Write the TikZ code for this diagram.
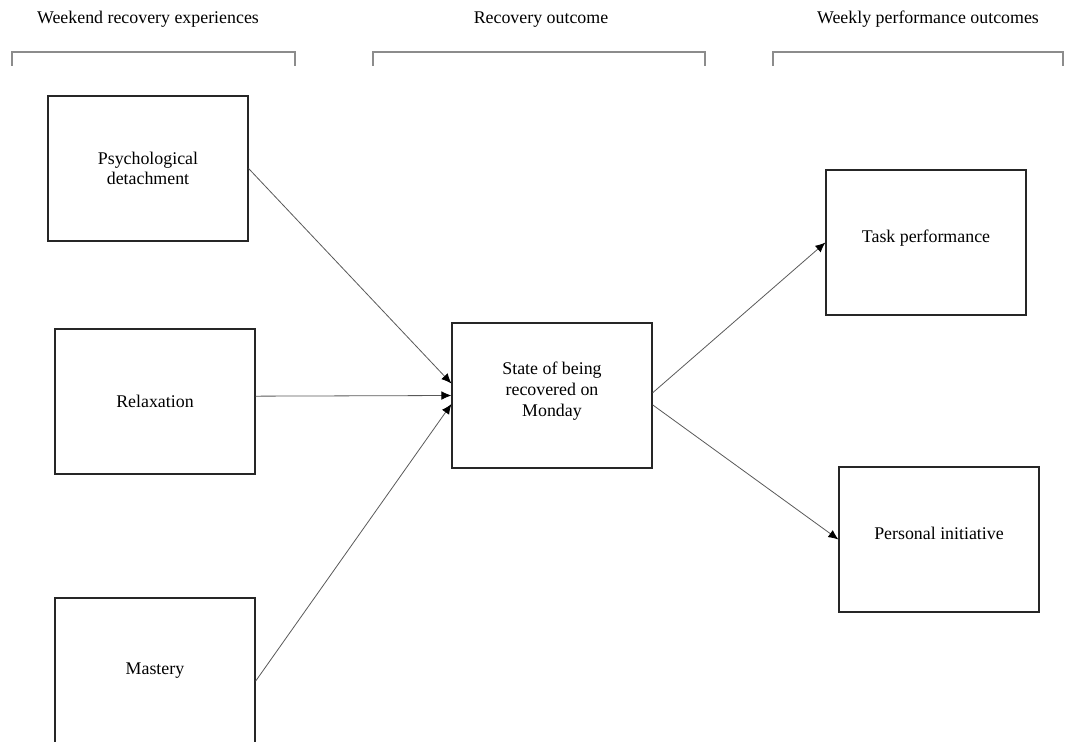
\documentclass[tikz,border=0pt]{standalone}
\usepackage{fontspec}
\setmainfont{Liberation Serif}
\usepackage{tikz}
\usetikzlibrary{arrows.meta}

\begin{document}
\begin{tikzpicture}[x=0.75pt,y=-0.75pt,
  every node/.style={font=\fontsize{13.4}{15.5}\selectfont},
  box/.style={draw=black!85,line width=0.9pt,minimum width=150pt,minimum height=108.75pt,inner sep=0pt,align=center},
  link/.style={draw=black!65,line width=0.6pt,-{Latex[length=7.5pt,width=6.5pt,color=black]}},
  brace/.style={draw=black!45,line width=0.9pt}]
\useasboundingbox (0,0) rectangle (1065,742);

\node (hdWeekend) at (148,19.5) {Weekend recovery experiences};
\node (hdRecovery) at (541,19.5) {Recovery outcome};
\node (hdWeekly) at (928,19.5) {Weekly performance outcomes};

\draw[brace] (12,66) -- (12,52) -- (295,52) -- (295,66);
\draw[brace] (373,66) -- (373,52) -- (705,52) -- (705,66);
\draw[brace] (773,66) -- (773,52) -- (1063,52) -- (1063,66);

\node[box] (psych) at (148,168.5) {Psychological\\detachment};
\node[box] (relax) at (155,401.5) {Relaxation};
\node[box] (mastery) at (155,670.5) {\raisebox{3pt}{Mastery}};
\node[box] (state) at (552,395.5) {\raisebox{3pt}[\height][\depth]{\begin{tabular}{@{}c@{}}State of being\\recovered on\\Monday\end{tabular}}};
\node[box] (task) at (926,242.5) {\raisebox{10pt}{Task performance}};
\node[box] (personal) at (939,539.5) {\raisebox{9pt}{Personal initiative}};

\draw[link] (psych.east) -- ([yshift=9pt]state.west);
\draw[link] ([yshift=4pt]relax.east) -- (state.west);
\draw[link] ([yshift=-8pt]mastery.east) -- ([yshift=-6.4pt]state.west);
\draw[link] ([yshift=2pt]state.east) -- (task.west);
\draw[link] ([yshift=-7pt]state.east) -- (personal.west);
\end{tikzpicture}
\end{document}
